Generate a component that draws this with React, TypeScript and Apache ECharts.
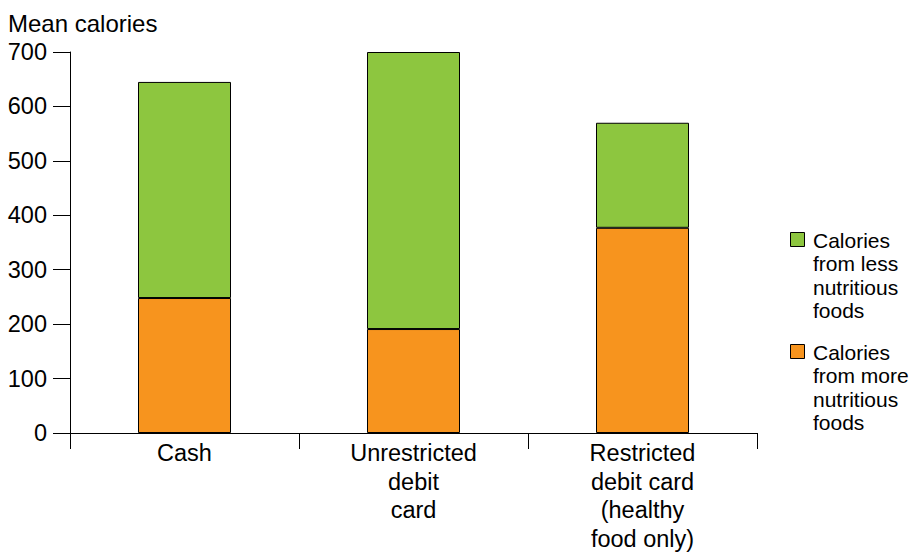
import React, { useEffect, useRef } from "react";
import * as echarts from "echarts";

const categories = ["Cash", "Unrestricted\ndebit\ncard", "Restricted\ndebit card\n(healthy\nfood only)"];
const moreNutritious = [248, 191, 377];
const lessNutritious = [397, 509, 193];
const yTicks = [0, 100, 200, 300, 400, 500, 600, 700];
const legendLabels = ["Calories\nfrom less\nnutritious\nfoods", "Calories\nfrom more\nnutritious\nfoods"];
const seriesNames = ["Calories from more nutritious foods", "Calories from less nutritious foods"];

const FONT = "'Liberation Sans', Arial, Helvetica, sans-serif";
const GREEN = "#8DC63F";
const ORANGE = "#F7941E";

export default function App() {
  const ref = useRef<HTMLDivElement>(null);
  useEffect(() => {
    if (!ref.current) return;
    const chart = echarts.init(ref.current, null, { renderer: "svg" });
    chart.setOption({
      animation: false,
      backgroundColor: "#fff",
      grid: { left: 70, right: 153, top: 52, bottom: 121, containLabel: false },
      xAxis: {
        type: "category",
        data: categories,
        boundaryGap: true,
        axisLine: { show: true, lineStyle: { color: "#000", width: 1 } },
        axisTick: { show: true, length: 16, alignWithLabel: false, interval: 0, lineStyle: { color: "#000", width: 1 } },
        axisLabel: { interval: 0, margin: 6, color: "#000", fontSize: 23.5, lineHeight: 28.5, fontFamily: FONT, align: "center" },
      },
      yAxis: {
        type: "value",
        min: yTicks[0],
        max: yTicks[yTicks.length - 1],
        interval: 100,
        splitLine: { show: false },
        axisLine: { show: true, lineStyle: { color: "#000", width: 1 } },
        axisTick: { show: true, length: 17, inside: false, lineStyle: { color: "#000", width: 1 } },
        axisLabel: { margin: 23, color: "#000", fontSize: 23.5, fontFamily: FONT },
      },
      series: [
        {
          name: seriesNames[0],
          type: "bar",
          stack: "total",
          data: moreNutritious,
          barWidth: 93,
          itemStyle: { color: ORANGE, borderColor: "#000", borderWidth: 1 },
        },
        {
          name: seriesNames[1],
          type: "bar",
          stack: "total",
          data: lessNutritious,
          barWidth: 93,
          itemStyle: { color: GREEN, borderColor: "#000", borderWidth: 1 },
        },
      ],
      graphic: [
        {
          type: "text",
          left: 8,
          top: 11,
          style: { text: "Mean calories", fontSize: 24, fontFamily: FONT, fill: "#000" },
        },
        {
          type: "rect",
          shape: { x: 790.5, y: 232.5, width: 14, height: 14 },
          style: { fill: GREEN, stroke: "#000", lineWidth: 1 },
        },
        {
          type: "text",
          x: 813,
          y: 228.5,
          style: { text: legendLabels[0], fontSize: 21, lineHeight: 23.4, fontFamily: FONT, fill: "#000", verticalAlign: "top", align: "left" },
        },
        {
          type: "rect",
          shape: { x: 790.5, y: 344.5, width: 14, height: 14 },
          style: { fill: ORANGE, stroke: "#000", lineWidth: 1 },
        },
        {
          type: "text",
          x: 813,
          y: 340.5,
          style: { text: legendLabels[1], fontSize: 21, lineHeight: 23.4, fontFamily: FONT, fill: "#000", verticalAlign: "top", align: "left" },
        },
      ],
    });
    return () => chart.dispose();
  }, []);
  return <div ref={ref} style={{ position: "fixed", left: 0, top: 0, width: 910, height: 554 }} />;
}
